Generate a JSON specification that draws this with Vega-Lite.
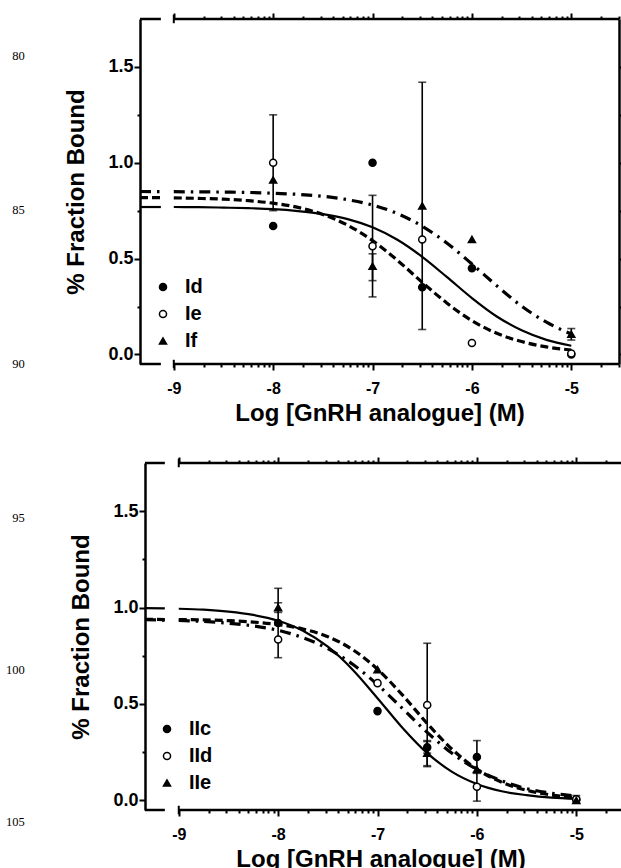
{
"$schema": "https://vega.github.io/schema/vega-lite/v6.json",
"background": "white",
"padding": {"left": 5, "top": 12, "right": 0, "bottom": 0},
"config": {"view": {"stroke": null}, "font": "Liberation Sans"},
"bounds": "flush",
"spacing": 99,
"resolve": {"scale": {"shape": "independent", "fill": "independent", "stroke": "independent"}, "legend": {"shape": "independent", "fill": "independent", "stroke": "independent"}},
"datasets": {
"curves": [
{"p":"A","s":"Id","g":1,"x":-9.34,"y":0.769},{"p":"A","s":"Id","g":1,"x":-9.13,"y":0.769},
{"p":"A","s":"Id","g":2,"x":-9,"y":0.769},{"p":"A","s":"Id","g":2,"x":-8.75,"y":0.768},{"p":"A","s":"Id","g":2,"x":-8.5,"y":0.766},{"p":"A","s":"Id","g":2,"x":-8.25,"y":0.763},{"p":"A","s":"Id","g":2,"x":-8,"y":0.758},{"p":"A","s":"Id","g":2,"x":-7.75,"y":0.748},{"p":"A","s":"Id","g":2,"x":-7.5,"y":0.732},{"p":"A","s":"Id","g":2,"x":-7.25,"y":0.706},{"p":"A","s":"Id","g":2,"x":-7,"y":0.663},{"p":"A","s":"Id","g":2,"x":-6.75,"y":0.598},{"p":"A","s":"Id","g":2,"x":-6.5,"y":0.509},{"p":"A","s":"Id","g":2,"x":-6.25,"y":0.403},{"p":"A","s":"Id","g":2,"x":-6,"y":0.294},{"p":"A","s":"Id","g":2,"x":-5.75,"y":0.198},{"p":"A","s":"Id","g":2,"x":-5.5,"y":0.126},{"p":"A","s":"Id","g":2,"x":-5.25,"y":0.076},{"p":"A","s":"Id","g":2,"x":-5,"y":0.045},
{"p":"A","s":"Ie","g":1,"x":-9.34,"y":0.818},{"p":"A","s":"Ie","g":1,"x":-9.13,"y":0.818},
{"p":"A","s":"Ie","g":2,"x":-9,"y":0.817},{"p":"A","s":"Ie","g":2,"x":-8.75,"y":0.814},{"p":"A","s":"Ie","g":2,"x":-8.5,"y":0.81},{"p":"A","s":"Ie","g":2,"x":-8.25,"y":0.802},{"p":"A","s":"Ie","g":2,"x":-8,"y":0.789},{"p":"A","s":"Ie","g":2,"x":-7.75,"y":0.767},{"p":"A","s":"Ie","g":2,"x":-7.5,"y":0.73},{"p":"A","s":"Ie","g":2,"x":-7.25,"y":0.674},{"p":"A","s":"Ie","g":2,"x":-7,"y":0.594},{"p":"A","s":"Ie","g":2,"x":-6.75,"y":0.491},{"p":"A","s":"Ie","g":2,"x":-6.5,"y":0.376},{"p":"A","s":"Ie","g":2,"x":-6.25,"y":0.267},{"p":"A","s":"Ie","g":2,"x":-6,"y":0.176},{"p":"A","s":"Ie","g":2,"x":-5.75,"y":0.11},{"p":"A","s":"Ie","g":2,"x":-5.5,"y":0.067},{"p":"A","s":"Ie","g":2,"x":-5.25,"y":0.039},{"p":"A","s":"Ie","g":2,"x":-5,"y":0.023},
{"p":"A","s":"If","g":1,"x":-9.34,"y":0.85},{"p":"A","s":"If","g":1,"x":-9.13,"y":0.849},
{"p":"A","s":"If","g":2,"x":-9,"y":0.849},{"p":"A","s":"If","g":2,"x":-8.75,"y":0.848},{"p":"A","s":"If","g":2,"x":-8.5,"y":0.847},{"p":"A","s":"If","g":2,"x":-8.25,"y":0.845},{"p":"A","s":"If","g":2,"x":-8,"y":0.841},{"p":"A","s":"If","g":2,"x":-7.75,"y":0.835},{"p":"A","s":"If","g":2,"x":-7.5,"y":0.825},{"p":"A","s":"If","g":2,"x":-7.25,"y":0.807},{"p":"A","s":"If","g":2,"x":-7,"y":0.779},{"p":"A","s":"If","g":2,"x":-6.75,"y":0.735},{"p":"A","s":"If","g":2,"x":-6.5,"y":0.669},{"p":"A","s":"If","g":2,"x":-6.25,"y":0.58},{"p":"A","s":"If","g":2,"x":-6,"y":0.472},{"p":"A","s":"If","g":2,"x":-5.75,"y":0.358},{"p":"A","s":"If","g":2,"x":-5.5,"y":0.252},{"p":"A","s":"If","g":2,"x":-5.25,"y":0.168},{"p":"A","s":"If","g":2,"x":-5,"y":0.106},
{"p":"B","s":"IIc","g":1,"x":-9.34,"y":0.997},{"p":"B","s":"IIc","g":1,"x":-9.14,"y":0.996},
{"p":"B","s":"IIc","g":2,"x":-9,"y":0.994},{"p":"B","s":"IIc","g":2,"x":-8.75,"y":0.989},{"p":"B","s":"IIc","g":2,"x":-8.5,"y":0.979},{"p":"B","s":"IIc","g":2,"x":-8.25,"y":0.962},{"p":"B","s":"IIc","g":2,"x":-8,"y":0.932},{"p":"B","s":"IIc","g":2,"x":-7.75,"y":0.88},{"p":"B","s":"IIc","g":2,"x":-7.5,"y":0.797},{"p":"B","s":"IIc","g":2,"x":-7.25,"y":0.678},{"p":"B","s":"IIc","g":2,"x":-7,"y":0.53},{"p":"B","s":"IIc","g":2,"x":-6.75,"y":0.377},{"p":"B","s":"IIc","g":2,"x":-6.5,"y":0.245},{"p":"B","s":"IIc","g":2,"x":-6.25,"y":0.148},{"p":"B","s":"IIc","g":2,"x":-6,"y":0.085},{"p":"B","s":"IIc","g":2,"x":-5.75,"y":0.047},{"p":"B","s":"IIc","g":2,"x":-5.5,"y":0.027},{"p":"B","s":"IIc","g":2,"x":-5.25,"y":0.014},{"p":"B","s":"IIc","g":2,"x":-5,"y":0.008},
{"p":"B","s":"IId","g":1,"x":-9.34,"y":0.939},{"p":"B","s":"IId","g":1,"x":-9.14,"y":0.938},
{"p":"B","s":"IId","g":2,"x":-9,"y":0.938},{"p":"B","s":"IId","g":2,"x":-8.75,"y":0.936},{"p":"B","s":"IId","g":2,"x":-8.5,"y":0.932},{"p":"B","s":"IId","g":2,"x":-8.25,"y":0.925},{"p":"B","s":"IId","g":2,"x":-8,"y":0.912},{"p":"B","s":"IId","g":2,"x":-7.75,"y":0.889},{"p":"B","s":"IId","g":2,"x":-7.5,"y":0.849},{"p":"B","s":"IId","g":2,"x":-7.25,"y":0.782},{"p":"B","s":"IId","g":2,"x":-7,"y":0.68},{"p":"B","s":"IId","g":2,"x":-6.75,"y":0.547},{"p":"B","s":"IId","g":2,"x":-6.5,"y":0.399},{"p":"B","s":"IId","g":2,"x":-6.25,"y":0.265},{"p":"B","s":"IId","g":2,"x":-6,"y":0.162},{"p":"B","s":"IId","g":2,"x":-5.75,"y":0.094},{"p":"B","s":"IId","g":2,"x":-5.5,"y":0.052},{"p":"B","s":"IId","g":2,"x":-5.25,"y":0.028},{"p":"B","s":"IId","g":2,"x":-5,"y":0.015},
{"p":"B","s":"IIe","g":1,"x":-9.34,"y":0.937},{"p":"B","s":"IIe","g":1,"x":-9.14,"y":0.935},
{"p":"B","s":"IIe","g":2,"x":-9,"y":0.933},{"p":"B","s":"IIe","g":2,"x":-8.75,"y":0.928},{"p":"B","s":"IIe","g":2,"x":-8.5,"y":0.919},{"p":"B","s":"IIe","g":2,"x":-8.25,"y":0.905},{"p":"B","s":"IIe","g":2,"x":-8,"y":0.882},{"p":"B","s":"IIe","g":2,"x":-7.75,"y":0.844},{"p":"B","s":"IIe","g":2,"x":-7.5,"y":0.787},{"p":"B","s":"IIe","g":2,"x":-7.25,"y":0.706},{"p":"B","s":"IIe","g":2,"x":-7,"y":0.6},{"p":"B","s":"IIe","g":2,"x":-6.75,"y":0.477},{"p":"B","s":"IIe","g":2,"x":-6.5,"y":0.353},{"p":"B","s":"IIe","g":2,"x":-6.25,"y":0.244},{"p":"B","s":"IIe","g":2,"x":-6,"y":0.16},{"p":"B","s":"IIe","g":2,"x":-5.75,"y":0.101},{"p":"B","s":"IIe","g":2,"x":-5.5,"y":0.061},{"p":"B","s":"IIe","g":2,"x":-5.25,"y":0.037},{"p":"B","s":"IIe","g":2,"x":-5,"y":0.022}
],
"pts": [
{"p":"A","s":"Id","x":-8,"y":0.67},{"p":"A","s":"Id","x":-7,"y":1.0},{"p":"A","s":"Id","x":-6.5,"y":0.35},{"p":"A","s":"Id","x":-6,"y":0.45},{"p":"A","s":"Id","x":-5,"y":0.0},
{"p":"A","s":"Ie","x":-8,"y":1.0},{"p":"A","s":"Ie","x":-7,"y":0.565},{"p":"A","s":"Ie","x":-6.5,"y":0.6},{"p":"A","s":"Ie","x":-6,"y":0.06},{"p":"A","s":"Ie","x":-5,"y":0.005},
{"p":"A","s":"If","x":-8,"y":0.91},{"p":"A","s":"If","x":-7,"y":0.46},{"p":"A","s":"If","x":-6.5,"y":0.775},{"p":"A","s":"If","x":-6,"y":0.6},{"p":"A","s":"If","x":-5,"y":0.105},
{"p":"B","s":"IIc","x":-8,"y":0.92},{"p":"B","s":"IIc","x":-7,"y":0.463},{"p":"B","s":"IIc","x":-6.5,"y":0.275},{"p":"B","s":"IIc","x":-6,"y":0.225},{"p":"B","s":"IIc","x":-5,"y":0.005},
{"p":"B","s":"IId","x":-8,"y":0.834},{"p":"B","s":"IId","x":-7,"y":0.608},{"p":"B","s":"IId","x":-6.5,"y":0.495},{"p":"B","s":"IId","x":-6,"y":0.071},{"p":"B","s":"IId","x":-5,"y":0.005},
{"p":"B","s":"IIe","x":-8,"y":1.0},{"p":"B","s":"IIe","x":-7,"y":0.678},{"p":"B","s":"IIe","x":-6.5,"y":0.245},{"p":"B","s":"IIe","x":-6,"y":0.16},{"p":"B","s":"IIe","x":-5,"y":0.0}
],
"errs": [
{"p":"A","s":"Ie","x":-8,"y":1.0,"err":0.25},{"p":"A","s":"Ie","x":-7,"y":0.565,"err":0.265},{"p":"A","s":"If","x":-7,"y":0.455,"err":0.07},{"p":"A","s":"If","x":-6.5,"y":0.775,"err":0.645},{"p":"A","s":"If","x":-5,"y":0.105,"err":0.03},
{"p":"B","s":"IIc","x":-8,"y":0.92,"err":0.18},{"p":"B","s":"IIe","x":-8,"y":1.0,"err":0.025},{"p":"B","s":"IId","x":-6.5,"y":0.495,"err":0.32},{"p":"B","s":"IIc","x":-6.5,"y":0.275,"err":0.03},{"p":"B","s":"IIe","x":-6.5,"y":0.245,"err":0.065},{"p":"B","s":"IIc","x":-6,"y":0.225,"err":0.085},{"p":"B","s":"IId","x":-6,"y":0.071,"err":0.075},{"p":"B","s":"IId","x":-5,"y":0.005,"err":0.02}
],
"lines": [{"p":"A","line":80},{"p":"A","line":85},{"p":"A","line":90},{"p":"B","line":95},{"p":"B","line":100},{"p":"B","line":105}]
},
"vconcat": [
{
"width": 479, "height": 345,
"layer": [
{"data": {"values": [{}]}, "mark": {"type": "rule", "color": "black", "strokeWidth": 2.5}, "encoding": {"x": {"datum": -9.34, "type": "quantitative", "axis": null}, "x2": {"datum": -9.13}, "y": {"datum": -0.05, "type": "quantitative", "scale": {"domain": [-0.05, 1.75], "nice": false, "zero": false}, "axis": null}}},
{"data": {"values": [{}]}, "mark": {"type": "rule", "color": "black", "strokeWidth": 2.5}, "encoding": {"x": {"datum": -9.0, "type": "quantitative", "axis": null}, "x2": {"datum": -4.52}, "y": {"datum": -0.05, "type": "quantitative", "scale": {"domain": [-0.05, 1.75], "nice": false, "zero": false}, "axis": null}}},
{"data": {"values": [{}]}, "mark": {"type": "rule", "color": "black", "strokeWidth": 2.5}, "encoding": {"x": {"datum": -9.34, "type": "quantitative", "axis": null}, "x2": {"datum": -9.13}, "y": {"datum": 1.75, "type": "quantitative", "scale": {"domain": [-0.05, 1.75], "nice": false, "zero": false}, "axis": null}}},
{"data": {"values": [{}]}, "mark": {"type": "rule", "color": "black", "strokeWidth": 2.5}, "encoding": {"x": {"datum": -9.0, "type": "quantitative", "axis": null}, "x2": {"datum": -4.52}, "y": {"datum": 1.75, "type": "quantitative", "scale": {"domain": [-0.05, 1.75], "nice": false, "zero": false}, "axis": null}}},
{"data": {"values": [{}]}, "mark": {"type": "rule", "color": "black", "strokeWidth": 2}, "encoding": {"x": {"datum": -9.0, "type": "quantitative", "axis": null}, "y": {"datum": -0.072, "type": "quantitative", "scale": {"domain": [-0.05, 1.75], "nice": false, "zero": false}, "axis": null}, "y2": {"datum": -0.028}}},
{"data": {"values": [{}]}, "mark": {"type": "rule", "color": "black", "strokeWidth": 2}, "encoding": {"x": {"datum": -9.0, "type": "quantitative", "axis": null}, "y": {"datum": 1.728, "type": "quantitative", "scale": {"domain": [-0.05, 1.75], "nice": false, "zero": false}, "axis": null}, "y2": {"datum": 1.772}}},
{"data": {"name": "curves"}, "transform": [{"filter": "datum.p == 'A' && datum.s == 'Id'"}],
 "mark": {"type": "line", "interpolate": "monotone", "color": "black", "strokeWidth": 2.2},
 "encoding": {
  "x": {"field": "x", "type": "quantitative", "scale": {"domain": [-9.34, -4.52], "nice": false, "zero": false},
   "axis": {"orient": "bottom", "domain": false, "grid": false, "values": [-9,-8.699,-8.523,-8.398,-8.301,-8.222,-8.155,-8.097,-8.046,-8,-7.699,-7.523,-7.398,-7.301,-7.222,-7.155,-7.097,-7.046,-7,-6.699,-6.523,-6.398,-6.301,-6.222,-6.155,-6.097,-6.046,-6,-5.699,-5.523,-5.398,-5.301,-5.222,-5.155,-5.097,-5.046,-5,-4.699,-4.523],
    "tickSize": {"condition": {"test": "abs(datum.value - round(datum.value)) < 0.001", "value": 6}, "value": 3}, "tickWidth": 2, "tickColor": "black",
    "labelExpr": "abs(datum.value - round(datum.value)) < 0.001 ? '' + round(datum.value) : ''", "labelOverlap": false, "labelFlush": false,
    "labelFont": "Liberation Sans", "labelFontSize": 16, "labelFontWeight": "bold", "labelColor": "black", "labelPadding": 10,
    "title": "Log [GnRH analogue] (M)", "titleFont": "Liberation Sans", "titleFontSize": 24, "titleFontWeight": "bold", "titleColor": "black", "titlePadding": 5}},
  "y": {"field": "y", "type": "quantitative", "scale": {"domain": [-0.05, 1.75], "nice": false, "zero": false},
   "axis": {"orient": "left", "domain": true, "domainWidth": 2.5, "domainColor": "black", "grid": false, "values": [0,0.25,0.5,0.75,1,1.25,1.5],
    "tickSize": {"condition": {"test": "abs(datum.value*2 - round(datum.value*2)) < 0.001", "value": 6}, "value": 3}, "tickWidth": 2, "tickColor": "black",
    "labelExpr": "abs(datum.value*2 - round(datum.value*2)) < 0.001 ? format(datum.value, '.1f') : ''", "labelOverlap": false, "labelFlush": false,
    "labelFont": "Liberation Sans", "labelFontSize": 18, "labelFontWeight": "bold", "labelColor": "black", "labelPadding": 1,
    "title": "% Fraction Bound", "titleFont": "Liberation Sans", "titleFontSize": 24, "titleFontWeight": "bold", "titleColor": "black", "titlePadding": 24, "titleBaseline": "alphabetic"}},
  "detail": {"field": "g", "type": "nominal"}
 }},
{"data": {"name": "curves"}, "transform": [{"filter": "datum.p == 'A' && datum.s == 'Ie'"}],
 "mark": {"type": "line", "interpolate": "monotone", "color": "black", "strokeWidth": 3.2, "strokeDash": [8, 4]},
 "encoding": {"x": {"field": "x", "type": "quantitative", "axis": null}, "y": {"field": "y", "type": "quantitative", "scale": {"domain": [-0.05, 1.75], "nice": false, "zero": false}, "axis": null}, "detail": {"field": "g", "type": "nominal"}}},
{"data": {"name": "curves"}, "transform": [{"filter": "datum.p == 'A' && datum.s == 'If'"}],
 "mark": {"type": "line", "interpolate": "monotone", "color": "black", "strokeWidth": 3.2, "strokeDash": [11, 6, 2.5, 6]},
 "encoding": {"x": {"field": "x", "type": "quantitative", "axis": null}, "y": {"field": "y", "type": "quantitative", "scale": {"domain": [-0.05, 1.75], "nice": false, "zero": false}, "axis": null}, "detail": {"field": "g", "type": "nominal"}}},
{"data": {"name": "errs"}, "transform": [{"filter": "datum.p == 'A'"}],
 "mark": {"type": "errorbar", "ticks": true, "color": "black", "thickness": 1.6, "size": 8},
 "encoding": {"x": {"field": "x", "type": "quantitative", "axis": null}, "y": {"field": "y", "type": "quantitative", "scale": {"domain": [-0.05, 1.75], "nice": false, "zero": false}, "axis": null}, "yError": {"field": "err"}}},
{"data": {"name": "pts"}, "transform": [{"filter": "datum.p == 'A'"}],
 "mark": {"type": "point", "filled": true, "size": 50, "strokeWidth": 1.5, "opacity": 1},
 "encoding": {
  "x": {"field": "x", "type": "quantitative", "axis": {"orient": "top", "domain": false, "grid": false, "labels": false, "title": null, "values": [-9,-8.699,-8.523,-8.398,-8.301,-8.222,-8.155,-8.097,-8.046,-8,-7.699,-7.523,-7.398,-7.301,-7.222,-7.155,-7.097,-7.046,-7,-6.699,-6.523,-6.398,-6.301,-6.222,-6.155,-6.097,-6.046,-6,-5.699,-5.523,-5.398,-5.301,-5.222,-5.155,-5.097,-5.046,-5,-4.699,-4.523],
    "tickSize": {"condition": {"test": "abs(datum.value - round(datum.value)) < 0.001", "value": 6}, "value": 3}, "tickWidth": 2, "tickColor": "black"}},
  "y": {"field": "y", "type": "quantitative", "scale": {"domain": [-0.05, 1.75], "nice": false, "zero": false}, "axis": {"orient": "right", "domain": true, "domainWidth": 2.5, "domainColor": "black", "grid": false, "labels": false, "title": null, "values": [0,0.25,0.5,0.75,1,1.25,1.5],
    "tickSize": {"condition": {"test": "abs(datum.value*2 - round(datum.value*2)) < 0.001", "value": 3}, "value": 2}, "tickWidth": 2, "tickColor": "black"}},
  "shape": {"field": "s", "type": "nominal", "scale": {"domain": ["Id","Ie","If"], "range": ["circle","circle","triangle-up"]},
   "legend": {"orient": "none", "legendX": 13, "legendY": 258, "title": null, "padding": 0, "direction": "vertical", "labelFont": "Liberation Sans", "labelFontSize": 20, "labelFontWeight": "bold", "labelColor": "black", "symbolSize": 50, "symbolStrokeWidth": 1.5, "symbolOpacity": 1, "rowPadding": 7, "labelOffset": 12}},
  "fill": {"field": "s", "type": "nominal", "scale": {"domain": ["Id","Ie","If"], "range": ["black","white","black"]},
   "legend": {"orient": "none", "legendX": 13, "legendY": 258, "title": null, "padding": 0, "direction": "vertical", "labelFont": "Liberation Sans", "labelFontSize": 20, "labelFontWeight": "bold", "labelColor": "black", "symbolSize": 50, "symbolStrokeWidth": 1.5, "symbolOpacity": 1, "rowPadding": 7, "labelOffset": 12}},
  "stroke": {"field": "s", "type": "nominal", "scale": {"domain": ["Id","Ie","If"], "range": ["black","black","black"]},
   "legend": {"orient": "none", "legendX": 13, "legendY": 258, "title": null, "padding": 0, "direction": "vertical", "labelFont": "Liberation Sans", "labelFontSize": 20, "labelFontWeight": "bold", "labelColor": "black", "symbolSize": 50, "symbolStrokeWidth": 1.5, "symbolOpacity": 1, "rowPadding": 7, "labelOffset": 12}}
 }},
{"data": {"name": "lines"}, "transform": [{"filter": "datum.p == 'A'"}],
 "mark": {"type": "text", "align": "right", "baseline": "middle", "font": "Liberation Serif", "fontSize": 12.5, "color": "black", "clip": false},
 "encoding": {"x": {"datum": -10.5, "type": "quantitative", "axis": null}, "y": {"field": "line", "type": "quantitative", "scale": {"domain": [78.8, 90], "reverse": true, "nice": false, "zero": false}, "axis": null}, "text": {"field": "line", "type": "nominal"}}}
],
"resolve": {"scale": {"y": "independent"}, "axis": {"x": "independent", "y": "independent"}}
},
{
"width": 481, "height": 347,
"layer": [
{"data": {"values": [{}]}, "mark": {"type": "rule", "color": "black", "strokeWidth": 2.5}, "encoding": {"x": {"datum": -9.34, "type": "quantitative", "axis": null}, "x2": {"datum": -9.14}, "y": {"datum": -0.05, "type": "quantitative", "scale": {"domain": [-0.05, 1.75], "nice": false, "zero": false}, "axis": null}}},
{"data": {"values": [{}]}, "mark": {"type": "rule", "color": "black", "strokeWidth": 2.5}, "encoding": {"x": {"datum": -9.0, "type": "quantitative", "axis": null}, "x2": {"datum": -4.55}, "y": {"datum": -0.05, "type": "quantitative", "scale": {"domain": [-0.05, 1.75], "nice": false, "zero": false}, "axis": null}}},
{"data": {"values": [{}]}, "mark": {"type": "rule", "color": "black", "strokeWidth": 2.5}, "encoding": {"x": {"datum": -9.34, "type": "quantitative", "axis": null}, "x2": {"datum": -9.14}, "y": {"datum": 1.75, "type": "quantitative", "scale": {"domain": [-0.05, 1.75], "nice": false, "zero": false}, "axis": null}}},
{"data": {"values": [{}]}, "mark": {"type": "rule", "color": "black", "strokeWidth": 2.5}, "encoding": {"x": {"datum": -9.0, "type": "quantitative", "axis": null}, "x2": {"datum": -4.55}, "y": {"datum": 1.75, "type": "quantitative", "scale": {"domain": [-0.05, 1.75], "nice": false, "zero": false}, "axis": null}}},
{"data": {"values": [{}]}, "mark": {"type": "rule", "color": "black", "strokeWidth": 2}, "encoding": {"x": {"datum": -9.0, "type": "quantitative", "axis": null}, "y": {"datum": -0.072, "type": "quantitative", "scale": {"domain": [-0.05, 1.75], "nice": false, "zero": false}, "axis": null}, "y2": {"datum": -0.028}}},
{"data": {"values": [{}]}, "mark": {"type": "rule", "color": "black", "strokeWidth": 2}, "encoding": {"x": {"datum": -9.0, "type": "quantitative", "axis": null}, "y": {"datum": 1.728, "type": "quantitative", "scale": {"domain": [-0.05, 1.75], "nice": false, "zero": false}, "axis": null}, "y2": {"datum": 1.772}}},
{"data": {"name": "curves"}, "transform": [{"filter": "datum.p == 'B' && datum.s == 'IIc'"}],
 "mark": {"type": "line", "interpolate": "monotone", "color": "black", "strokeWidth": 2.2},
 "encoding": {
  "x": {"field": "x", "type": "quantitative", "scale": {"domain": [-9.39, -4.55], "nice": false, "zero": false},
   "axis": {"orient": "bottom", "domain": false, "grid": false, "values": [-9,-8.699,-8.523,-8.398,-8.301,-8.222,-8.155,-8.097,-8.046,-8,-7.699,-7.523,-7.398,-7.301,-7.222,-7.155,-7.097,-7.046,-7,-6.699,-6.523,-6.398,-6.301,-6.222,-6.155,-6.097,-6.046,-6,-5.699,-5.523,-5.398,-5.301,-5.222,-5.155,-5.097,-5.046,-5,-4.699],
    "tickSize": {"condition": {"test": "abs(datum.value - round(datum.value)) < 0.001", "value": 6}, "value": 3}, "tickWidth": 2, "tickColor": "black",
    "labelExpr": "abs(datum.value - round(datum.value)) < 0.001 ? '' + round(datum.value) : ''", "labelOverlap": false, "labelFlush": false,
    "labelFont": "Liberation Sans", "labelFontSize": 16, "labelFontWeight": "bold", "labelColor": "black", "labelPadding": 10,
    "title": "Log [GnRH analogue] (M)", "titleFont": "Liberation Sans", "titleFontSize": 24, "titleFontWeight": "bold", "titleColor": "black", "titlePadding": 5}},
  "y": {"field": "y", "type": "quantitative", "scale": {"domain": [-0.05, 1.75], "nice": false, "zero": false},
   "axis": {"orient": "left", "offset": -5, "domain": true, "domainWidth": 2.5, "domainColor": "black", "grid": false, "values": [0,0.25,0.5,0.75,1,1.25,1.5],
    "tickSize": {"condition": {"test": "abs(datum.value*2 - round(datum.value*2)) < 0.001", "value": 6}, "value": 3}, "tickWidth": 2, "tickColor": "black",
    "labelExpr": "abs(datum.value*2 - round(datum.value*2)) < 0.001 ? format(datum.value, '.1f') : ''", "labelOverlap": false, "labelFlush": false,
    "labelFont": "Liberation Sans", "labelFontSize": 18, "labelFontWeight": "bold", "labelColor": "black", "labelPadding": 1,
    "title": "% Fraction Bound", "titleFont": "Liberation Sans", "titleFontSize": 24, "titleFontWeight": "bold", "titleColor": "black", "titlePadding": 24, "titleBaseline": "alphabetic"}},
  "detail": {"field": "g", "type": "nominal"}
 }},
{"data": {"name": "curves"}, "transform": [{"filter": "datum.p == 'B' && datum.s == 'IId'"}],
 "mark": {"type": "line", "interpolate": "monotone", "color": "black", "strokeWidth": 3.2, "strokeDash": [8, 4]},
 "encoding": {"x": {"field": "x", "type": "quantitative", "axis": null}, "y": {"field": "y", "type": "quantitative", "scale": {"domain": [-0.05, 1.75], "nice": false, "zero": false}, "axis": null}, "detail": {"field": "g", "type": "nominal"}}},
{"data": {"name": "curves"}, "transform": [{"filter": "datum.p == 'B' && datum.s == 'IIe'"}],
 "mark": {"type": "line", "interpolate": "monotone", "color": "black", "strokeWidth": 3.2, "strokeDash": [11, 6, 2.5, 6]},
 "encoding": {"x": {"field": "x", "type": "quantitative", "axis": null}, "y": {"field": "y", "type": "quantitative", "scale": {"domain": [-0.05, 1.75], "nice": false, "zero": false}, "axis": null}, "detail": {"field": "g", "type": "nominal"}}},
{"data": {"name": "errs"}, "transform": [{"filter": "datum.p == 'B'"}],
 "mark": {"type": "errorbar", "ticks": true, "color": "black", "thickness": 1.6, "size": 8},
 "encoding": {"x": {"field": "x", "type": "quantitative", "axis": null}, "y": {"field": "y", "type": "quantitative", "scale": {"domain": [-0.05, 1.75], "nice": false, "zero": false}, "axis": null}, "yError": {"field": "err"}}},
{"data": {"name": "pts"}, "transform": [{"filter": "datum.p == 'B'"}],
 "mark": {"type": "point", "filled": true, "size": 50, "strokeWidth": 1.5, "opacity": 1},
 "encoding": {
  "x": {"field": "x", "type": "quantitative", "axis": {"orient": "top", "domain": false, "grid": false, "labels": false, "title": null, "values": [-9,-8.699,-8.523,-8.398,-8.301,-8.222,-8.155,-8.097,-8.046,-8,-7.699,-7.523,-7.398,-7.301,-7.222,-7.155,-7.097,-7.046,-7,-6.699,-6.523,-6.398,-6.301,-6.222,-6.155,-6.097,-6.046,-6,-5.699,-5.523,-5.398,-5.301,-5.222,-5.155,-5.097,-5.046,-5,-4.699],
    "tickSize": {"condition": {"test": "abs(datum.value - round(datum.value)) < 0.001", "value": 6}, "value": 3}, "tickWidth": 2, "tickColor": "black"}},
  "y": {"field": "y", "type": "quantitative", "scale": {"domain": [-0.05, 1.75], "nice": false, "zero": false}, "axis": null},
  "shape": {"field": "s", "type": "nominal", "scale": {"domain": ["IIc","IId","IIe"], "range": ["circle","circle","triangle-up"]},
   "legend": {"orient": "none", "legendX": 17, "legendY": 256, "title": null, "padding": 0, "direction": "vertical", "labelFont": "Liberation Sans", "labelFontSize": 20, "labelFontWeight": "bold", "labelColor": "black", "symbolSize": 50, "symbolStrokeWidth": 1.5, "symbolOpacity": 1, "rowPadding": 7, "labelOffset": 12}},
  "fill": {"field": "s", "type": "nominal", "scale": {"domain": ["IIc","IId","IIe"], "range": ["black","white","black"]},
   "legend": {"orient": "none", "legendX": 17, "legendY": 256, "title": null, "padding": 0, "direction": "vertical", "labelFont": "Liberation Sans", "labelFontSize": 20, "labelFontWeight": "bold", "labelColor": "black", "symbolSize": 50, "symbolStrokeWidth": 1.5, "symbolOpacity": 1, "rowPadding": 7, "labelOffset": 12}},
  "stroke": {"field": "s", "type": "nominal", "scale": {"domain": ["IIc","IId","IIe"], "range": ["black","black","black"]},
   "legend": {"orient": "none", "legendX": 17, "legendY": 256, "title": null, "padding": 0, "direction": "vertical", "labelFont": "Liberation Sans", "labelFontSize": 20, "labelFontWeight": "bold", "labelColor": "black", "symbolSize": 50, "symbolStrokeWidth": 1.5, "symbolOpacity": 1, "rowPadding": 7, "labelOffset": 12}}
 }},
{"data": {"name": "lines"}, "transform": [{"filter": "datum.p == 'B'"}],
 "mark": {"type": "text", "align": "right", "baseline": "middle", "font": "Liberation Serif", "fontSize": 12.5, "color": "black", "clip": false},
 "encoding": {"x": {"datum": -10.55, "type": "quantitative", "axis": null}, "y": {"field": "line", "type": "quantitative", "scale": {"domain": [93.2, 104.6], "reverse": true, "nice": false, "zero": false}, "axis": null}, "text": {"field": "line", "type": "nominal"}}}
],
"resolve": {"scale": {"y": "independent"}, "axis": {"x": "independent", "y": "independent"}}
}
]
}
